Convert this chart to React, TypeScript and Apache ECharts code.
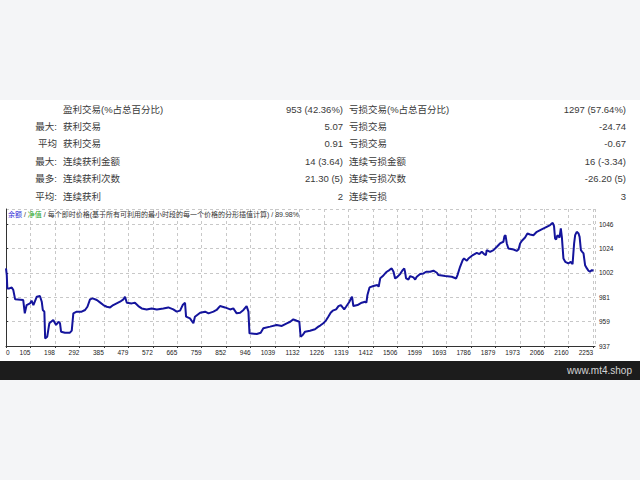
import React, { useEffect, useRef } from "react";
import * as echarts from "echarts";

// ---- Data ----
const tradeNo = [
  0, 3, 5, 13, 22, 28, 35, 66, 72, 79, 92, 98, 105, 118, 130, 137, 141, 147, 150, 158,
  166, 181, 192, 201, 207, 211, 226, 245, 252, 258, 271, 290, 303, 312, 322, 332, 348, 360, 373, 386,
  399, 411, 424, 437, 450, 456, 463, 482, 494, 507, 520, 539, 558, 578, 603, 622, 641, 654, 667, 677,
  686, 690, 705, 718, 724, 744, 763, 776, 795, 807, 820, 839, 859, 871, 884, 897, 910, 922, 929, 933,
  961, 976, 986, 1012, 1037, 1057, 1076, 1089, 1101, 1114, 1124, 1129, 1137, 1146, 1165, 1184, 1197, 1204, 1216, 1227,
  1235, 1244, 1252, 1265, 1274, 1283, 1290, 1296, 1303, 1316, 1322, 1326, 1331, 1347, 1363, 1376, 1381, 1385, 1393, 1408,
  1423, 1428, 1434, 1444, 1453, 1459, 1469, 1472, 1478, 1485, 1491, 1497, 1510, 1520, 1526, 1529, 1533, 1542, 1549, 1561,
  1568, 1574, 1587, 1600, 1610, 1625, 1638, 1651, 1657, 1683, 1708, 1725, 1730, 1740, 1750, 1755, 1766, 1772, 1789, 1804,
  1814, 1823, 1832, 1839, 1842, 1855, 1868, 1881, 1893, 1906, 1910, 1914, 1919, 1925, 1945, 1957, 1964, 1970, 1977, 1989,
  1998, 2008, 2021, 2034, 2047, 2060, 2072, 2085, 2095, 2100, 2104, 2108, 2113, 2121, 2126, 2130, 2136, 2143, 2155, 2164,
  2171, 2177, 2181, 2187, 2194, 2198, 2203, 2208, 2213, 2219, 2226, 2232, 2238, 2245, 2251,
];
const balance = [
  1006.5, 1000.4, 988.5, 988.5, 989.4, 987.0, 978.7, 978.1, 966.2, 973.6, 975.1, 977.5, 973.6, 981.1, 981.7, 976.6, 969.2, 967.7, 943.8, 945.3,
  957.3, 960.2, 955.8, 958.7, 957.3, 949.8, 948.9, 948.9, 950.7, 966.2, 967.7, 967.7, 969.2, 972.1, 978.7, 979.6, 978.1, 976.0, 973.6, 972.1,
  971.5, 973.6, 975.1, 976.6, 978.7, 981.1, 975.7, 975.1, 975.7, 972.7, 970.6, 969.7, 970.6, 969.7, 970.6, 971.5, 969.7, 967.7, 968.6, 973.6,
  975.7, 963.2, 961.7, 957.3, 963.2, 966.8, 967.7, 966.2, 967.7, 969.2, 972.7, 971.5, 969.7, 970.6, 966.2, 966.8, 969.2, 972.7, 967.7, 948.3,
  947.7, 948.9, 952.8, 954.3, 955.8, 954.9, 957.3, 958.7, 960.8, 959.6, 958.7, 945.3, 946.8, 949.8, 950.7, 952.0, 954.3, 955.3, 957.3, 960.2,
  963.2, 966.8, 968.6, 969.8, 972.7, 973.6, 971.5, 969.8, 972.1, 976.6, 979.6, 981.1, 972.7, 973.6, 975.7, 976.6, 975.7, 982.6, 989.4, 990.6,
  991.5, 990.0, 997.5, 999.5, 1001.9, 1003.4, 1004.9, 1005.5, 1006.4, 1003.4, 997.4, 998.3, 1001.3, 1004.9, 1006.4, 1003.4, 997.4, 996.5, 999.5, 998.3,
  996.5, 998.9, 1001.3, 1001.9, 1003.4, 1003.4, 1004.3, 1002.5, 1000.4, 999.5, 998.9, 997.4, 1000.4, 1007.8, 1013.8, 1015.3, 1013.2, 1015.3, 1018.3, 1020.3,
  1019.2, 1021.2, 1019.2, 1018.3, 1022.7, 1021.2, 1022.7, 1025.7, 1028.7, 1030.2, 1035.2, 1036.1, 1028.7, 1024.2, 1023.3, 1022.1, 1023.3, 1028.7, 1031.1, 1034.0,
  1037.6, 1036.7, 1036.1, 1039.1, 1040.6, 1042.1, 1043.6, 1045.1, 1047.2, 1044.2, 1033.1, 1032.3, 1036.1, 1034.0, 1042.1, 1034.6, 1015.3, 1012.3, 1010.8, 1012.3,
  1010.2, 1028.7, 1036.1, 1039.1, 1037.6, 1034.6, 1022.7, 1021.2, 1019.8, 1009.3, 1006.4, 1004.3, 1003.4, 1004.9, 1004.3,
];
const xTickLabels = [
  "0", "105", "198", "292", "385", "479", "572", "665", "759", "852", "946", "1039", "1132",
  "1226", "1319", "1412", "1506", "1599", "1693", "1786", "1879", "1973", "2066", "2160", "2253",
];
const xTickStep = 93.75;
const yMin = 937;
const yStep = 21.8;

const rowPrefixes = ["", "最大:", "平均", "最大:", "最多:", "平均:"];
const leftLabels = ["盈利交易(%占总百分比)", "获利交易", "获利交易", "连续获利金额", "连续获利次数", "连续获利"];
const leftValues = ["953 (42.36%)", "5.07", "0.91", "14 (3.64)", "21.30 (5)", "2"];
const rightLabels = ["亏损交易(%占总百分比)", "亏损交易", "亏损交易", "连续亏损金额", "连续亏损次数", "连续亏损"];
const rightValues = ["1297 (57.64%)", "-24.74", "-0.67", "16 (-3.34)", "-26.20 (5)", "3"];

const chartTitle = "{b|余额} / {g|净值} / 每个即时价格(基于所有可利用的最小时段的每一个价格的分形插值计算) / 89.98%";
const watermark = "www.mt4.shop";

const FONT = '"Liberation Sans", "Noto Sans CJK SC", sans-serif';

export default function App() {
  const ref = useRef<HTMLDivElement>(null);
  useEffect(() => {
    if (!ref.current) return;
    const chart = echarts.init(ref.current, null, { renderer: "svg" });
    const textColor = "#3a3a3a";
    const tableFont = `9.5px ${FONT}`;
    const rowY0 = 109;
    const rowH = 17.4;
    const tableTexts: any[] = [];
    rowPrefixes.forEach((p, i) => {
      const y = rowY0 + i * rowH;
      if (p) tableTexts.push({ type: "text", z: 1, style: { x: 57, y, text: p, fill: textColor, font: tableFont, align: "right", verticalAlign: "middle" } });
      tableTexts.push({ type: "text", z: 1, style: { x: 63, y, text: leftLabels[i], fill: textColor, font: tableFont, align: "left", verticalAlign: "middle" } });
      tableTexts.push({ type: "text", z: 1, style: { x: 343, y, text: leftValues[i], fill: textColor, font: tableFont, align: "right", verticalAlign: "middle" } });
      tableTexts.push({ type: "text", z: 1, style: { x: 349, y, text: rightLabels[i], fill: textColor, font: tableFont, align: "left", verticalAlign: "middle" } });
      tableTexts.push({ type: "text", z: 1, style: { x: 626, y, text: rightValues[i], fill: textColor, font: tableFont, align: "right", verticalAlign: "middle" } });
    });

    chart.setOption({
      animation: false,
      backgroundColor: "#f4f5f7",
      graphic: [
        { type: "rect", z: 0, shape: { x: 0, y: 100, width: 640, height: 261 }, style: { fill: "#ffffff" } },
        { type: "rect", z: 0, shape: { x: 0, y: 361, width: 640, height: 19 }, style: { fill: "#1c1c1c" } },
        { type: "text", z: 1, style: { x: 632, y: 370.5, text: watermark, fill: "#d4d4d4", font: `10px ${FONT}`, align: "right", verticalAlign: "middle" } },
        ...tableTexts,
      ],
      title: {
        text: chartTitle,
        left: 8,
        top: 211,
        padding: 0,
        textStyle: {
          fontSize: 7,
          fontWeight: "normal",
          color: "#333",
          fontFamily: FONT,
          rich: {
            b: { color: "#2b2bd6", fontSize: 7, fontFamily: FONT },
            g: { color: "#1fa51f", fontSize: 7, fontFamily: FONT },
          },
        },
      },
      grid: {
        left: 6,
        right: 45,
        top: 209,
        bottom: 134,
        show: true,
        borderColor: "#8a8a8a",
        borderWidth: 1,
        backgroundColor: "transparent",
      },
      xAxis: {
        type: "value",
        min: 0,
        max: 2257,
        interval: xTickStep,
        axisLine: { show: true, lineStyle: { color: "#333", width: 1 } },
        axisTick: { show: true, length: 2, lineStyle: { color: "#333" } },
        splitLine: { show: true, lineStyle: { color: "#c8c8c8", type: [3, 3], width: 1 } },
        axisLabel: {
          show: true,
          fontSize: 6.5,
          fontFamily: FONT,
          color: "#222",
          margin: 3,
          align: "right",
          alignMinLabel: "left",
          showMaxLabel: false,
          formatter: (v: number) => {
            const k = Math.round(v / xTickStep);
            return xTickLabels[k] ?? "";
          },
        },
      },
      yAxis: {
        type: "value",
        position: "right",
        min: yMin,
        max: 1059.5,
        interval: yStep,
        axisLine: { show: true, lineStyle: { color: "#333", width: 1 } },
        axisTick: { show: true, length: 2, lineStyle: { color: "#333" } },
        splitLine: { show: true, lineStyle: { color: "#c8c8c8", type: [3, 3], width: 1 } },
        axisLabel: {
          show: true,
          fontSize: 6.5,
          fontFamily: FONT,
          color: "#222",
          margin: 4,
          showMaxLabel: false,
          formatter: (v: number) => String(Math.round(v)),
        },
      },
      series: [
        {
          type: "line",
          data: tradeNo.map((t, i) => [t, balance[i]]),
          showSymbol: false,
          symbol: "none",
          lineStyle: { color: "#14149c", width: 2 },
          z: 3,
        },
      ],
    });
    return () => chart.dispose();
  }, []);
  return <div ref={ref} style={{ position: "absolute", left: 0, top: 0, width: 640, height: 480 }} />;
}
